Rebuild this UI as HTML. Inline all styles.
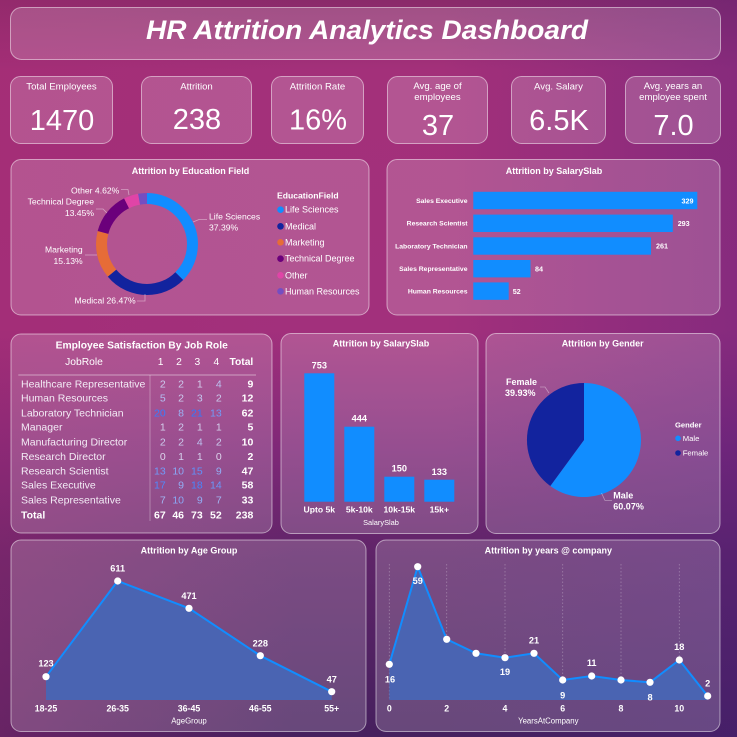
<!DOCTYPE html>
<html><head><meta charset="utf-8">
<style>
html,body{margin:0;padding:0;}
body{width:737px;height:737px;overflow:hidden;
background:
 linear-gradient(90deg, rgba(165,42,112,0.35) 0%, rgba(165,42,112,0) 40%, rgba(70,30,130,0) 60%, rgba(70,30,130,0.3) 100%),
 linear-gradient(180deg, #8a2a6a 0px, #a3307a 70px, #a2307c 330px, #7e2878 450px, #5e2468 560px, #46205e 737px);
font-family:"Liberation Sans",sans-serif;}
svg{display:block;}
</style></head><body>
<svg width="737" height="737" viewBox="0 0 737 737" font-family="Liberation Sans, sans-serif" fill="#fff">
<g fill="rgba(255,255,255,0.18)" stroke="rgba(255,255,255,0.5)" stroke-width="1">
 <rect x="10.5" y="7.5" width="710" height="52" rx="11"/>
 <rect x="10.5" y="76.5" width="102" height="67" rx="10"/>
 <rect x="141.5" y="76.5" width="110" height="67" rx="10"/>
 <rect x="271.5" y="76.5" width="92" height="67" rx="10"/>
 <rect x="387.5" y="76.5" width="100" height="67" rx="10"/>
 <rect x="511.5" y="76.5" width="94" height="67" rx="10"/>
 <rect x="625.5" y="76.5" width="95" height="67" rx="10"/>
 <rect x="11" y="159.5" width="358" height="155.5" rx="10"/>
 <rect x="387" y="159.5" width="333" height="155.5" rx="10"/>
 <rect x="11" y="334" width="261" height="199" rx="10"/>
 <rect x="281" y="333.5" width="197" height="200" rx="10"/>
 <rect x="486" y="333.5" width="234" height="200" rx="10"/>
 <rect x="11" y="540" width="355" height="191.5" rx="10"/>
 <rect x="376" y="540" width="344" height="191.5" rx="10"/>
</g>

<!-- Title -->
<text x="146" y="39" font-size="27" font-weight="bold" font-style="italic" textLength="442" lengthAdjust="spacingAndGlyphs">HR Attrition Analytics Dashboard</text>

<!-- KPIs -->
<g font-size="9.6" text-anchor="middle">
 <text x="61.5" y="89.3">Total Employees</text>
 <text x="196.5" y="89.3">Attrition</text>
 <text x="317.5" y="89.3">Attrition Rate</text>
 <text x="437.5" y="89">Avg. age of</text>
 <text x="437.5" y="100">employees</text>
 <text x="558.5" y="89.3">Avg. Salary</text>
 <text x="673" y="89">Avg. years an</text>
 <text x="673" y="100">employee spent</text>
</g>
<g font-size="29" text-anchor="middle">
 <text x="62" y="130">1470</text>
 <text x="197" y="129">238</text>
 <text x="318" y="129.5">16%</text>
 <text x="438" y="135">37</text>
 <text x="559" y="130">6.5K</text>
 <text x="673.5" y="135">7.0</text>
</g>

<!-- Education donut -->
<text x="190.5" y="174" font-size="9" font-weight="bold" text-anchor="middle">Attrition by Education Field</text>
<g transform="rotate(-90 147 244)" fill="none" stroke-width="11">
 <circle cx="147" cy="244" r="45.5" stroke="#118dff" stroke-dasharray="106.89 285.88" stroke-dashoffset="0"/>
 <circle cx="147" cy="244" r="45.5" stroke="#12239e" stroke-dasharray="75.67 285.88" stroke-dashoffset="-106.89"/>
 <circle cx="147" cy="244" r="45.5" stroke="#e66c37" stroke-dasharray="43.25 285.88" stroke-dashoffset="-182.56"/>
 <circle cx="147" cy="244" r="45.5" stroke="#6b007b" stroke-dasharray="38.45 285.88" stroke-dashoffset="-225.81"/>
 <circle cx="147" cy="244" r="45.5" stroke="#e044a7" stroke-dasharray="13.21 285.88" stroke-dashoffset="-264.26"/>
 <circle cx="147" cy="244" r="45.5" stroke="#744ec2" stroke-dasharray="8.40 285.88" stroke-dashoffset="-277.47"/>
</g>
<g fill="none" stroke="rgba(255,255,255,0.45)" stroke-width="0.8">
 <polyline points="193,222 199,219.5 207,219.5"/>
 <polyline points="145,294 145,301 137,301"/>
 <polyline points="85,255 97,255"/>
 <polyline points="96,209 103,209 107,213"/>
 <polyline points="121,189.5 128,189.5 129,195"/>
</g>
<g font-size="8.6">
 <text x="209" y="219.3">Life Sciences</text>
 <text x="209" y="230.7">37.39%</text>
 <text x="135.7" y="303.3" text-anchor="end">Medical 26.47%</text>
 <text x="82.7" y="252.7" text-anchor="end">Marketing</text>
 <text x="82.7" y="264" text-anchor="end">15.13%</text>
 <text x="94" y="204.7" text-anchor="end">Technical Degree</text>
 <text x="94" y="216" text-anchor="end">13.45%</text>
 <text x="119.3" y="193.3" text-anchor="end">Other 4.62%</text>
</g>
<text x="277" y="198.3" font-size="8.6" font-weight="bold">EducationField</text>
<g font-size="9">
 <circle cx="280.5" cy="209.7" r="3.3" fill="#118dff"/><text x="285" y="212.7">Life Sciences</text>
 <circle cx="280.5" cy="226.3" r="3.3" fill="#12239e"/><text x="285" y="229.3">Medical</text>
 <circle cx="280.5" cy="242.3" r="3.3" fill="#e66c37"/><text x="285" y="245.3">Marketing</text>
 <circle cx="280.5" cy="258.7" r="3.3" fill="#6b007b"/><text x="285" y="261.7">Technical Degree</text>
 <circle cx="280.5" cy="275.3" r="3.3" fill="#e044a7"/><text x="285" y="278.3">Other</text>
 <circle cx="280.5" cy="291.3" r="3.3" fill="#744ec2"/><text x="285" y="294.3">Human Resources</text>
</g>

<!-- Horizontal bar chart -->
<text x="554" y="174" font-size="9" font-weight="bold" text-anchor="middle">Attrition by SalarySlab</text>
<g fill="#118dff">
 <rect x="473.3" y="191.8" width="224" height="17.4"/>
 <rect x="473.3" y="214.6" width="199.5" height="17.4"/>
 <rect x="473.3" y="237.3" width="177.7" height="17.4"/>
 <rect x="473.3" y="260" width="57.2" height="17.4"/>
 <rect x="473.3" y="282.4" width="35.4" height="17.4"/>
</g>
<g font-size="6.8" font-weight="bold" text-anchor="end">
 <text x="467.5" y="203">Sales Executive</text>
 <text x="467.5" y="225.7">Research Scientist</text>
 <text x="467.5" y="248.4">Laboratory Technician</text>
 <text x="467.5" y="271.1">Sales Representative</text>
 <text x="467.5" y="293.5">Human Resources</text>
</g>
<g font-size="7.2" font-weight="bold">
 <text x="693.5" y="203.3" text-anchor="end">329</text>
 <text x="677.7" y="226">293</text>
 <text x="656" y="248.7">261</text>
 <text x="535" y="271.3">84</text>
 <text x="512.7" y="293.8">52</text>
</g>

<!-- Table -->
<text x="141.7" y="348.3" font-size="10.3" font-weight="bold" text-anchor="middle">Employee Satisfaction By Job Role</text>
<g font-size="10.3">
 <text x="84" y="365" text-anchor="middle">JobRole</text>
 <text x="163.5" y="365" text-anchor="end">1</text>
 <text x="181.8" y="365" text-anchor="end">2</text>
 <text x="200.2" y="365" text-anchor="end">3</text>
 <text x="219.2" y="365" text-anchor="end">4</text>
 <text x="253.3" y="365" text-anchor="end" font-weight="bold">Total</text>
</g>
<line x1="18.3" y1="375" x2="256" y2="375" stroke="rgba(255,255,255,0.45)" stroke-width="1"/>
<line x1="150" y1="375" x2="150" y2="521" stroke="rgba(255,255,255,0.3)" stroke-width="1"/>
<g font-size="10.5" fill="#f3ecf6">
 <text x="21" y="387.3">Healthcare Representative</text>
 <text x="21" y="401.7">Human Resources</text>
 <text x="21" y="416.7">Laboratory Technician</text>
 <text x="21" y="430.7">Manager</text>
 <text x="21" y="445.3">Manufacturing Director</text>
 <text x="21" y="460">Research Director</text>
 <text x="21" y="474.3">Research Scientist</text>
 <text x="21" y="488.7">Sales Executive</text>
 <text x="21" y="503.3">Sales Representative</text>
 <text x="21" y="518.3" font-weight="bold" fill="#fff">Total</text>
</g>
<g font-size="10.5" text-anchor="end">
 <!-- Healthcare -->
 <text x="165.7" y="387.3" fill="#cccbee">2</text><text x="184" y="387.3" fill="#cccbee">2</text><text x="202.7" y="387.3" fill="#d4d0ed">1</text><text x="221.7" y="387.3" fill="#bbc3f0">4</text>
 <!-- HR -->
 <text x="165.7" y="401.7" fill="#b3bef1">5</text><text x="184" y="401.7" fill="#cccbee">2</text><text x="202.7" y="401.7" fill="#c3c7ef">3</text><text x="221.7" y="401.7" fill="#cccbee">2</text>
 <!-- Lab -->
 <text x="165.7" y="416.7" fill="#377cfe">20</text><text x="184" y="416.7" fill="#9ab1f3">8</text><text x="202.7" y="416.7" fill="#2f78ff">21</text><text x="221.7" y="416.7" fill="#719bf8">13</text>
 <!-- Manager -->
 <text x="165.7" y="430.7" fill="#d4d0ed">1</text><text x="184" y="430.7" fill="#cccbee">2</text><text x="202.7" y="430.7" fill="#d4d0ed">1</text><text x="221.7" y="430.7" fill="#d4d0ed">1</text>
 <!-- Manufacturing -->
 <text x="165.7" y="445.3" fill="#cccbee">2</text><text x="184" y="445.3" fill="#cccbee">2</text><text x="202.7" y="445.3" fill="#bbc3f0">4</text><text x="221.7" y="445.3" fill="#cccbee">2</text>
 <!-- Research Director -->
 <text x="165.7" y="460" fill="#dcd4ec">0</text><text x="184" y="460" fill="#d4d0ed">1</text><text x="202.7" y="460" fill="#d4d0ed">1</text><text x="221.7" y="460" fill="#dcd4ec">0</text>
 <!-- Research Scientist -->
 <text x="165.7" y="474.3" fill="#719bf8">13</text><text x="184" y="474.3" fill="#8aa8f5">10</text><text x="202.7" y="474.3" fill="#6092fa">15</text><text x="221.7" y="474.3" fill="#92adf4">9</text>
 <!-- Sales Executive -->
 <text x="165.7" y="488.7" fill="#5089fb">17</text><text x="184" y="488.7" fill="#92adf4">9</text><text x="202.7" y="488.7" fill="#4885fc">18</text><text x="221.7" y="488.7" fill="#6997f9">14</text>
 <!-- Sales Rep -->
 <text x="165.7" y="503.3" fill="#a2b5f2">7</text><text x="184" y="503.3" fill="#8aa8f5">10</text><text x="202.7" y="503.3" fill="#92adf4">9</text><text x="221.7" y="503.3" fill="#a2b5f2">7</text>
 <!-- Totals column -->
 <g font-weight="bold" fill="#fff">
  <text x="253.3" y="387.3">9</text>
  <text x="253.3" y="401.7">12</text>
  <text x="253.3" y="416.7">62</text>
  <text x="253.3" y="430.7">5</text>
  <text x="253.3" y="445.3">10</text>
  <text x="253.3" y="460">2</text>
  <text x="253.3" y="474.3">47</text>
  <text x="253.3" y="488.7">58</text>
  <text x="253.3" y="503.3">33</text>
  <text x="165.7" y="518.3">67</text>
  <text x="184" y="518.3">46</text>
  <text x="202.7" y="518.3">73</text>
  <text x="221.7" y="518.3">52</text>
  <text x="253.3" y="518.3">238</text>
 </g>
</g>

<!-- Column chart -->
<text x="381" y="346.7" font-size="9" font-weight="bold" text-anchor="middle">Attrition by SalarySlab</text>
<g fill="#118dff">
 <rect x="304.3" y="373.3" width="30" height="128.4"/>
 <rect x="344.3" y="426.7" width="30" height="75"/>
 <rect x="384.3" y="476.7" width="30" height="25"/>
 <rect x="424.3" y="479.7" width="30" height="22"/>
</g>
<g font-size="9.2" font-weight="bold" text-anchor="middle">
 <text x="319.3" y="368.3">753</text>
 <text x="359.3" y="421.7">444</text>
 <text x="399.3" y="471.7">150</text>
 <text x="439.3" y="475">133</text>
 <text x="319.3" y="512.7" font-size="8.6">Upto 5k</text>
 <text x="359.3" y="512.7" font-size="8.6">5k-10k</text>
 <text x="399.3" y="512.7" font-size="8.6">10k-15k</text>
 <text x="439.3" y="512.7" font-size="8.6">15k+</text>
</g>
<text x="381" y="525" font-size="7.4" text-anchor="middle">SalarySlab</text>

<!-- Gender pie -->
<text x="602.7" y="346.7" font-size="9" font-weight="bold" text-anchor="middle">Attrition by Gender</text>
<path d="M584,440 L584,383 A57,57 0 1 1 550.3,486 Z" fill="#118dff"/>
<path d="M584,440 L550.3,486 A57,57 0 0 1 584,383 Z" fill="#12239e"/>
<g fill="none" stroke="rgba(255,255,255,0.4)" stroke-width="0.8">
 <polyline points="540,387 545,387 549,393"/>
 <polyline points="601.5,493 605,500.5 612,500.5"/>
</g>
<g font-size="9" font-weight="bold">
 <text x="506" y="385">Female</text>
 <text x="505" y="396">39.93%</text>
 <text x="613.3" y="498.3">Male</text>
 <text x="613.3" y="509.3">60.07%</text>
</g>
<text x="675" y="427.7" font-size="7.6" font-weight="bold">Gender</text>
<g font-size="7.7">
 <circle cx="678" cy="438.3" r="2.8" fill="#118dff"/><text x="682.7" y="441">Male</text>
 <circle cx="678" cy="453" r="2.8" fill="#12239e"/><text x="682.7" y="455.7">Female</text>
</g>

<!-- Age group -->
<text x="189" y="553.3" font-size="9" font-weight="bold" text-anchor="middle">Attrition by Age Group</text>
<polygon points="46,676.7 117.7,581 189,608.3 260.3,655.7 331.7,691.7 331.7,700 46,700" fill="#4a64b2"/>
<polyline points="46,676.7 117.7,581 189,608.3 260.3,655.7 331.7,691.7" fill="none" stroke="#118dff" stroke-width="2"/>
<g fill="#fff">
 <circle cx="46" cy="676.7" r="3.6"/><circle cx="117.7" cy="581" r="3.6"/><circle cx="189" cy="608.3" r="3.6"/><circle cx="260.3" cy="655.7" r="3.6"/><circle cx="331.7" cy="691.7" r="3.6"/>
</g>
<g font-size="9.2" font-weight="bold" text-anchor="middle">
 <text x="46" y="666.7">123</text>
 <text x="117.7" y="571.7">611</text>
 <text x="189" y="599">471</text>
 <text x="260.3" y="646.7">228</text>
 <text x="331.7" y="682.3">47</text>
 <text x="46" y="711.7" font-size="8.8">18-25</text>
 <text x="117.7" y="711.7" font-size="8.8">26-35</text>
 <text x="189" y="711.7" font-size="8.8">36-45</text>
 <text x="260.3" y="711.7" font-size="8.8">46-55</text>
 <text x="331.7" y="711.7" font-size="8.8">55+</text>
</g>
<text x="189" y="723.3" font-size="7.8" text-anchor="middle">AgeGroup</text>

<!-- Years at company -->
<text x="548.3" y="553.3" font-size="9" font-weight="bold" text-anchor="middle">Attrition by years @ company</text>
<g stroke="rgba(255,255,255,0.3)" stroke-width="0.8" stroke-dasharray="1.5 2">
 <line x1="389.3" y1="564" x2="389.3" y2="700"/>
 <line x1="446.7" y1="564" x2="446.7" y2="700"/>
 <line x1="505" y1="564" x2="505" y2="700"/>
 <line x1="562.7" y1="564" x2="562.7" y2="700"/>
 <line x1="621" y1="564" x2="621" y2="700"/>
 <line x1="679.3" y1="564" x2="679.3" y2="700"/>
</g>
<polygon points="389.3,664.3 417.7,566.7 446.7,639.3 476,653.3 505,657.7 534,653.3 562.7,680 591.7,676 621,680 650,682.3 679.3,660 707.7,696 707.7,700 389.3,700" fill="#4a64b2"/>
<polyline points="389.3,664.3 417.7,566.7 446.7,639.3 476,653.3 505,657.7 534,653.3 562.7,680 591.7,676 621,680 650,682.3 679.3,660 707.7,696" fill="none" stroke="#118dff" stroke-width="2"/>
<g fill="#fff">
 <circle cx="389.3" cy="664.3" r="3.6"/><circle cx="417.7" cy="566.7" r="3.6"/><circle cx="446.7" cy="639.3" r="3.6"/><circle cx="476" cy="653.3" r="3.6"/><circle cx="505" cy="657.7" r="3.6"/><circle cx="534" cy="653.3" r="3.6"/><circle cx="562.7" cy="680" r="3.6"/><circle cx="591.7" cy="676" r="3.6"/><circle cx="621" cy="680" r="3.6"/><circle cx="650" cy="682.3" r="3.6"/><circle cx="679.3" cy="660" r="3.6"/><circle cx="707.7" cy="696" r="3.6"/>
</g>
<g font-size="9.2" font-weight="bold" text-anchor="middle">
 <text x="390" y="682.3">16</text>
 <text x="417.7" y="584">59</text>
 <text x="505" y="675">19</text>
 <text x="534" y="643.3">21</text>
 <text x="562.7" y="698.3">9</text>
 <text x="591.7" y="666">11</text>
 <text x="650" y="700.7">8</text>
 <text x="679.3" y="650">18</text>
 <text x="707.7" y="686.7">2</text>
 <text x="389.3" y="711.7" font-size="8.8">0</text>
 <text x="446.7" y="711.7" font-size="8.8">2</text>
 <text x="505" y="711.7" font-size="8.8">4</text>
 <text x="562.7" y="711.7" font-size="8.8">6</text>
 <text x="621" y="711.7" font-size="8.8">8</text>
 <text x="679.3" y="711.7" font-size="8.8">10</text>
</g>
<text x="548.3" y="723.3" font-size="7.8" text-anchor="middle">YearsAtCompany</text>
</svg>
</body></html>
